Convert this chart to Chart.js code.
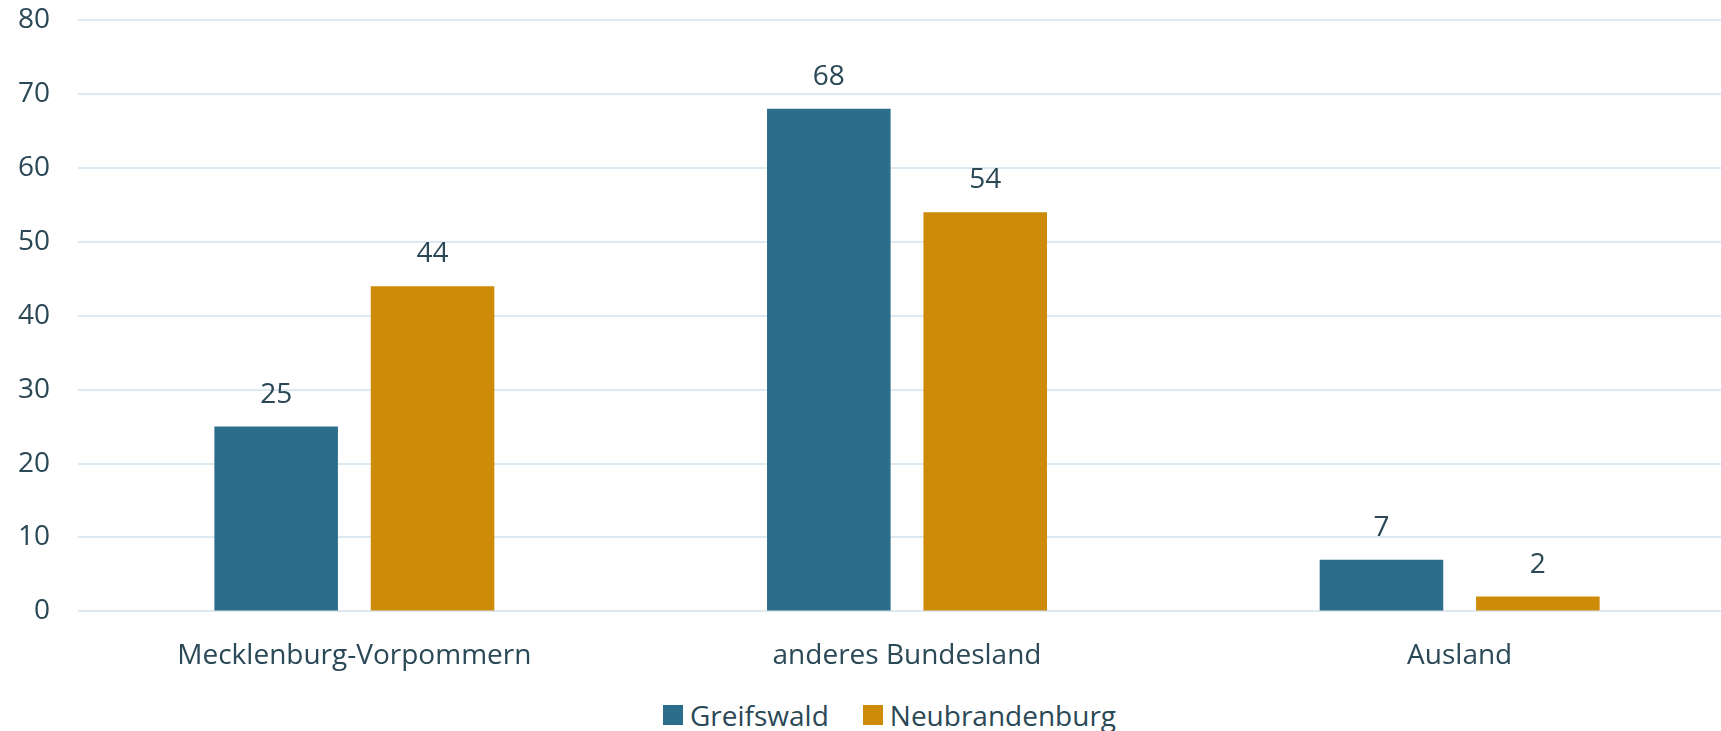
<!DOCTYPE html>
<html>
<head>
<meta charset="utf-8">
<script src="https://cdn.jsdelivr.net/npm/chart.js@4"></script>
<style>
  html, body { margin: 0; padding: 0; background: #fff; overflow: hidden; }
  #wrap { position: absolute; left: 0; top: 0; width: 1736px; height: 693px; }
  #legend { position: absolute; left: 663px; top: 695px; height: 40px; display: flex; align-items: center;
            font: 28px 'Open Sans', sans-serif; color: #2a4856; }
  #legend span.box { display: inline-block; width: 20px; height: 20px; margin-right: 7px; }
  #legend span.item { display: flex; align-items: center; margin-right: 34px; }
</style>
</head>
<body>
<div id="wrap"><canvas id="chart"></canvas></div>
<div id="legend"></div>
<script>
const categories = ["Mecklenburg-Vorpommern", "anderes Bundesland", "Ausland"];
const seriesNames = ["Greifswald", "Neubrandenburg"];
const seriesColors = ["#2c6d8c", "#cd8b07"];
const greifswald = [25, 68, 7];
const neubrandenburg = [44, 54, 2];
const yTicks = [0, 10, 20, 30, 40, 50, 60, 70, 80];

const textColor = "#2a4856";
const fontFamily = "'Open Sans', sans-serif";

// writes each bar's value above it
const valueLabels = {
    id: "valueLabels",
    afterDatasetsDraw(chart) {
        const ctx = chart.ctx;
        ctx.save();
        ctx.fillStyle = textColor;
        ctx.font = "28px " + fontFamily;
        ctx.textAlign = "center";
        ctx.textBaseline = "middle";
        chart.data.datasets.forEach((ds, i) => {
            chart.getDatasetMeta(i).data.forEach((bar, j) => {
                ctx.fillText(ds.data[j], bar.x, bar.y - 32);
            });
        });
        ctx.restore();
    }
};

const chart = new Chart(document.getElementById("chart"), {
    type: "bar",
    data: {
        labels: categories,
        datasets: [
            {label: seriesNames[0], data: greifswald, backgroundColor: seriesColors[0]},
            {label: seriesNames[1], data: neubrandenburg, backgroundColor: seriesColors[1]}
        ]
    },
    options: {
        responsive: true,
        maintainAspectRatio: false,
        animation: false,
        categoryPercentage: 0.566,
        barPercentage: 0.79,
        layout: {padding: {left: 18, top: 20, right: 0, bottom: 0}},
        plugins: {
            legend: {display: false},
            tooltip: {enabled: false}
        },
        scales: {
            x: {
                grid: {display: false},
                border: {display: false},
                ticks: {color: textColor, font: {family: fontFamily, size: 28}, padding: 20}
            },
            y: {
                min: 0,
                max: 80,
                afterBuildTicks: axis => { axis.ticks = yTicks.map(v => ({value: v})); },
                // invisible tick marks keep the labels away from the plot
                grid: {color: "#dde9f1", lineWidth: 2, drawTicks: true, tickLength: 28, tickColor: "rgba(0,0,0,0)"},
                border: {display: false},
                ticks: {color: textColor, font: {family: fontFamily, size: 28}, padding: 0}
            }
        }
    },
    plugins: [valueLabels]
});

// legend row built from the dataset names and colours
const legend = document.getElementById("legend");
chart.data.datasets.forEach(ds => {
    const item = document.createElement("span");
    item.className = "item";
    const box = document.createElement("span");
    box.className = "box";
    box.style.background = ds.backgroundColor;
    item.appendChild(box);
    item.appendChild(document.createTextNode(ds.label));
    legend.appendChild(item);
});
</script>
</body>
</html>
